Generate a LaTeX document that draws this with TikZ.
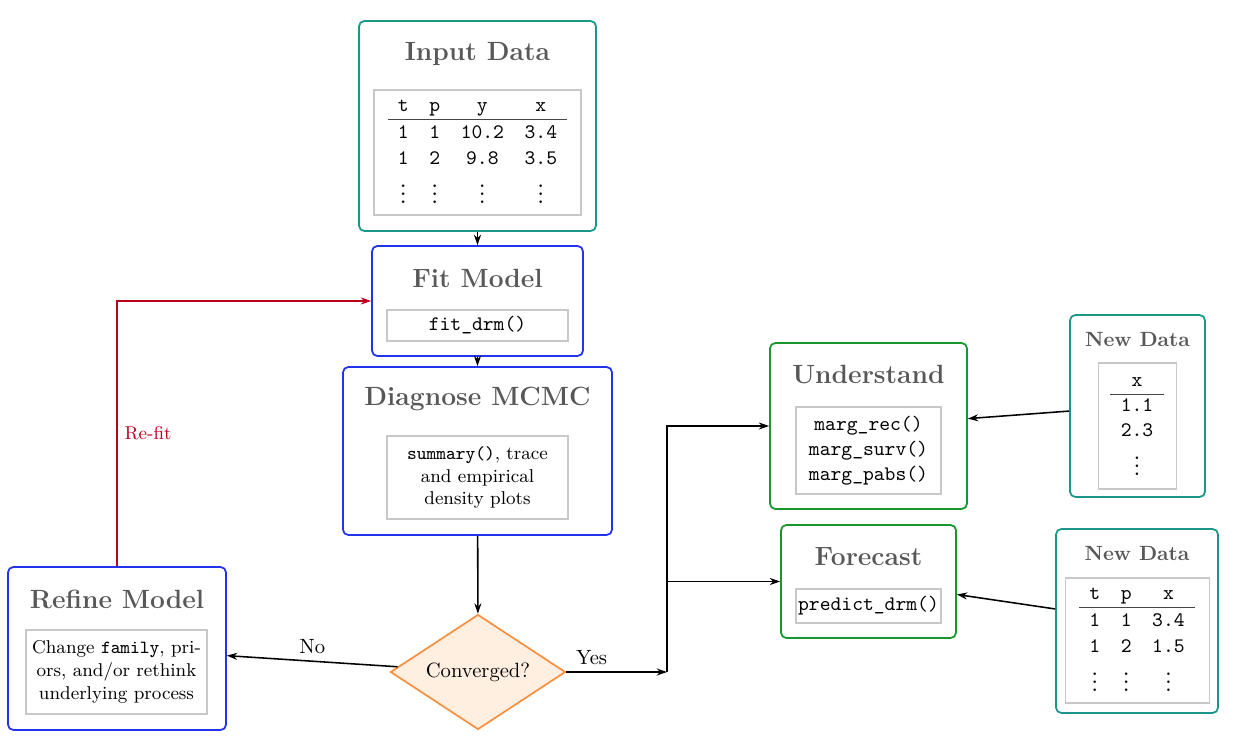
\documentclass[tikz,border=0pt]{standalone}
\usepackage{colortbl}
\usetikzlibrary{shapes.geometric,arrows.meta}
\definecolor{tealc}{RGB}{27,150,138}
\definecolor{bluec}{RGB}{35,50,235}
\definecolor{greenc}{RGB}{25,150,45}
\definecolor{redc}{RGB}{190,0,30}
\definecolor{orangec}{RGB}{245,145,65}
\definecolor{orangefill}{RGB}{255,239,225}
\definecolor{titlegray}{RGB}{88,88,88}
\definecolor{boxgray}{RGB}{200,200,200}
\definecolor{rulegray}{RGB}{70,70,70}
\newdimen\pxu \pxu=0.485pt
\tikzset{
  outerbox/.style={draw, rounded corners=2.6pt, line width=0.85pt, inner sep=0pt},
  innerbox/.style={draw=boxgray, line width=0.5pt, inner sep=1pt, align=center},
  ttl/.style={font=\fontsize{12.8}{15}\selectfont\bfseries, text=titlegray},
  ttlsmall/.style={font=\bfseries, text=titlegray},
  arr/.style={-{Stealth[length=5pt,width=3.4pt]}, line width=0.75pt},
}
\begin{document}
\begin{tikzpicture}[x=0.485pt,y=-0.485pt]
\useasboundingbox (0,0) rectangle (1236,741);

% Input Data
\node[outerbox, draw=tealc, minimum width=237*\pxu, minimum height=210*\pxu] (input) at (477.5,126) {};
\node[ttl] (inputttl) at (477.5,54) {Input Data};
\node[innerbox, minimum width=207*\pxu, minimum height=125*\pxu] (inputtab) at (477.5,152.5)
  {\ttfamily\setlength{\tabcolsep}{5pt}\renewcommand{\arraystretch}{1.05}\arrayrulecolor{rulegray}%
   \begin{tabular}{cccc} t & p & y & x\\ \hline 1 & 1 & 10.2 & 3.4\\ 1 & 2 & 9.8 & 3.5\\ $\vdots$ & $\vdots$ & $\vdots$ & $\vdots$\end{tabular}};

% Fit Model
\node[outerbox, draw=bluec, minimum width=211*\pxu, minimum height=110*\pxu] (fit) at (477.5,301) {};
\node[ttl] (fitttl) at (477.5,278) {Fit Model};
\node[innerbox, minimum width=181*\pxu, minimum height=31*\pxu] (fitin) at (477.5,325.5) {\texttt{fit\_drm()}};

% Diagnose MCMC
\node[outerbox, draw=bluec, minimum width=269*\pxu, minimum height=168*\pxu] (diag) at (477.5,451) {};
\node[ttl] (diagttl) at (477.5,399) {Diagnose MCMC};
\node[innerbox, font=\small, minimum width=181*\pxu, minimum height=83*\pxu] (diagin) at (477.5,477.5)
  {\texttt{summary()}, trace\\and empirical\\density plots};

% Converged
\node[diamond, aspect=1.52, draw=orangec, fill=orangefill, line width=0.85pt, inner sep=0pt,
      minimum width=175*\pxu, minimum height=115*\pxu] (conv) at (478,672) {Converged?};

% Refine Model
\node[outerbox, draw=bluec, minimum width=218*\pxu, minimum height=163*\pxu] (refine) at (117,648.5) {};
\node[ttl] (refinettl) at (117,599) {Refine Model};
\node[innerbox, font=\small, minimum width=181*\pxu, minimum height=84*\pxu] (refinein) at (116.5,672)
  {Change \texttt{family}, pri-\\ors, and/or rethink\\underlying process};

% Understand
\node[outerbox, draw=greenc, minimum width=197*\pxu, minimum height=166*\pxu] (und) at (868.5,426) {};
\node[ttl] (undttl) at (868.5,375) {Understand};
\node[innerbox, minimum width=145*\pxu, minimum height=87*\pxu] (undin) at (868.5,450.5)
  {\ttfamily marg\_rec()\\ \ttfamily marg\_surv()\\ \ttfamily marg\_pabs()};

% Forecast
\node[outerbox, draw=greenc, minimum width=175*\pxu, minimum height=113*\pxu] (fore) at (868.5,581.5) {};
\node[ttl] (forettl) at (868.5,557) {Forecast};
\node[innerbox, minimum width=145*\pxu, minimum height=34*\pxu] (forein) at (868.5,606) {\texttt{predict\_drm()}};

% New Data 1
\node[outerbox, draw=tealc, minimum width=135*\pxu, minimum height=182*\pxu] (nd1) at (1137.5,406) {};
\node[ttlsmall] (nd1ttl) at (1137.5,339) {New Data};
\node[innerbox, minimum width=78*\pxu, minimum height=126*\pxu] (nd1in) at (1137,426)
  {\ttfamily\setlength{\tabcolsep}{5pt}\arrayrulecolor{rulegray}%
   \begin{tabular}{c} x\\ \hline 1.1\\ 2.3\\ $\vdots$\end{tabular}};

% New Data 2
\node[outerbox, draw=tealc, minimum width=162*\pxu, minimum height=184*\pxu] (nd2) at (1137,621) {};
\node[ttlsmall] (nd2ttl) at (1137,553) {New Data};
\node[innerbox, minimum width=144*\pxu, minimum height=125*\pxu] (nd2in) at (1137,640.5)
  {\ttfamily\setlength{\tabcolsep}{5pt}\renewcommand{\arraystretch}{1.05}\arrayrulecolor{rulegray}%
   \begin{tabular}{ccc} t & p & x\\ \hline 1 & 1 & 3.4\\ 1 & 2 & 1.5\\ $\vdots$ & $\vdots$ & $\vdots$\end{tabular}};

\coordinate (split) at (667,672);

% Connectors
\draw[arr] (input) -- (fit);
\draw[arr] (fit) -- (diag);
\draw[arr] (diag) -- (conv);
\draw[arr] (conv) -- node[pos=0.5, above] {No} (refine);
\draw[arr] (conv.east) -- node[pos=0.25, above] {Yes} (split);
\draw[arr] (split) |- (und.west);
\draw[arr] (split) |- (fore.west);
\draw[arr] (nd1) -- (und);
\draw[arr] (nd2) -- (fore);
\draw[arr, draw=redc] (refine.north) |- node[pos=0.25, right, text=redc, font=\small] {Re-fit} (fit.west);
\end{tikzpicture}
\end{document}
